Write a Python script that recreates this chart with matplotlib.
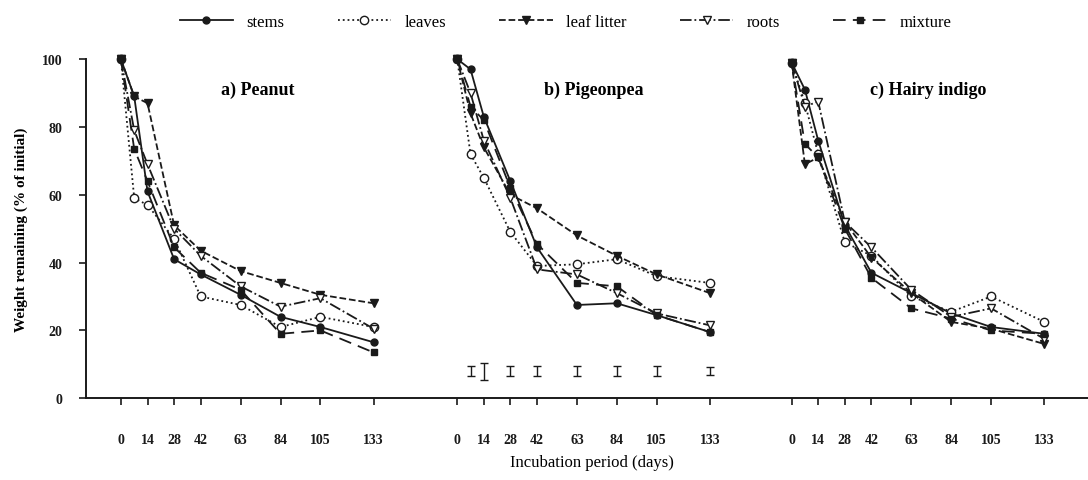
import numpy as np
import matplotlib
matplotlib.use("Agg")
import matplotlib.pyplot as plt

plt.rcParams['font.family'] = ['Liberation Serif', 'DejaVu Serif']

# sampling days (same for the three residues)
days = [0, 7, 14, 28, 42, 63, 84, 105, 133]
tick_days = [0, 14, 28, 42, 63, 84, 105, 133]

# offset of each panel along the shared x axis (in day units)
panel_offsets = [0, 177, 353]
panel_names = ['a) Peanut', 'b) Pigeonpea', 'c) Hairy indigo']

# weight remaining (% of initial)
peanut = {
    'stems':       [100, 89, 61, 41, 36.5, 30.5, 24, 21, 16.5],
    'leaves':      [100, 59, 57, 47, 30, 27.5, 21, 24, 21],
    'leaf litter': [100, 89, 87, 51, 43.5, 37.5, 34, 30.5, 28],
    'roots':       [100, 79, 69, 50, 42, 33, 27, 29.5, 20.5],
    'mixture':     [100, 73.5, 64, 44.5, 37, 32, 19, 20, 13.5],
}
pigeonpea = {
    'stems':       [100, 97, 83, 64, 44.5, 27.5, 28, 24.5, 19.5],
    'leaves':      [100, 72, 65, 49, 39, 39.5, 41, 36, 34],
    'leaf litter': [100, 84, 74, 60, 56, 48, 42, 36.5, 31],
    'roots':       [100, 90, 76, 59, 38, 36.5, 31, 25, 21.5],
    'mixture':     [100, 86, 82, 62, 45.5, 34, 33, 24.5, 19.5],
}
hairy_indigo = {
    'stems':       [99, 91, 76, 51, 37, 31, 25, 21, 19],
    'leaves':      [99, 87, 72, 46, 42, 30, 25.5, 30, 22.5],
    'leaf litter': [99, 69, 71, 52, 41.5, 31, 22.5, 20.5, 16],
    'roots':       [99, 86, 87.5, 52, 44.5, 32, 24, 26.5, 17.5],
    'mixture':     [99, 75, 71, 50, 35.5, 26.5, 23.5, 20, 19],
}
panels = [peanut, pigeonpea, hairy_indigo]

# LSD bars shown in the pigeonpea panel
lsd_days = [7, 14, 28, 42, 63, 84, 105, 133]
lsd_half = [1.5, 2.5, 1.5, 1.5, 1.5, 1.5, 1.5, 1.2]
lsd_level = 8

ink = '#1a1a1a'
styles = {
    'stems':       dict(linestyle='-', marker='o', mfc=ink, ms=5),
    'leaves':      dict(linestyle=':', marker='o', mfc='white', ms=6),
    'leaf litter': dict(linestyle='--', marker='v', mfc=ink, ms=6),
    'roots':       dict(linestyle='-.', marker='v', mfc='white', ms=6),
    'mixture':     dict(linestyle=(0, (7, 4)), marker='s', mfc=ink, ms=5),
}

fig = plt.figure(figsize=(10.88, 4.81), dpi=100)
ax = fig.add_axes([0.079, 0.170, 0.921, 0.705])

for off, data, name in zip(panel_offsets, panels, panel_names):
    x = np.array(days) + off
    for key, vals in data.items():
        st = styles[key]
        ax.plot(x, vals, color=ink, lw=1.3, linestyle=st['linestyle'],
                marker=st['marker'], ms=st['ms'], mfc=st['mfc'], mec=ink,
                mew=1.0, clip_on=False,
                label=key if off == 0 else None)
    ax.text(off + 72, 91, name, ha='center', va='center', fontsize=13,
            fontweight='bold')

ax.errorbar(np.array(lsd_days) + panel_offsets[1], [lsd_level] * len(lsd_days),
            yerr=lsd_half, fmt='none', ecolor=ink, elinewidth=1.0,
            capsize=3, capthick=1.0)

xt = [d + off for off in panel_offsets for d in tick_days]
xl = [str(d) for off in panel_offsets for d in tick_days]
ax.set_xticks(xt)
ax.set_xticklabels(xl, fontsize=10, fontweight='bold')
ax.set_xlim(-18.4, 509)
ax.set_ylim(0, 100)
ax.set_yticks([0, 20, 40, 60, 80, 100])
ax.set_yticklabels(['0', '20', '40', '60', '80', '100'], fontsize=10,
                   fontweight='bold')
ax.tick_params(axis='x', direction='out', length=5, width=1.2, pad=20,
               colors=ink)
ax.tick_params(axis='y', direction='out', length=5, width=1.2, pad=12,
               colors=ink)
for s in ['top', 'right']:
    ax.spines[s].set_visible(False)
for s in ['left', 'bottom']:
    ax.spines[s].set_linewidth(1.4)
    ax.spines[s].set_color(ink)

ax.set_ylabel('Weight remaining (% of initial)', fontsize=11,
              fontweight='bold', labelpad=10)
ax.set_xlabel('Incubation period (days)', fontsize=12)
ax.xaxis.set_label_coords(0.505, -0.165)

fig.legend(loc='upper center', bbox_to_anchor=(0.52, 1.0), ncol=5,
           frameon=False, fontsize=12, handlelength=3.2, columnspacing=3.2,
           handletextpad=0.8)

fig.savefig('out.png', dpi=100, facecolor='white')
